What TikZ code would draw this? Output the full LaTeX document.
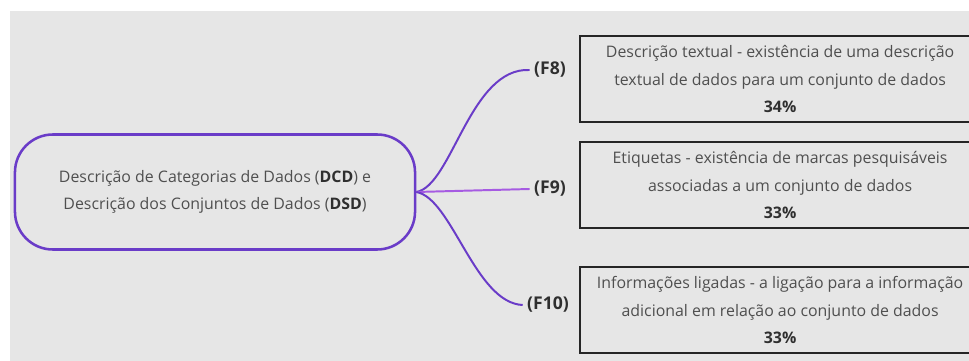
\documentclass[tikz,border=0pt]{standalone}
\usepackage{fontspec}
\setmainfont{Open Sans}
\usepackage{tikz}
\usetikzlibrary{positioning,calc}
\definecolor{panelbg}{HTML}{E6E6E6}
\definecolor{rootline}{HTML}{6A3CC8}
\definecolor{midline}{HTML}{A65BE2}
\definecolor{txtgray}{HTML}{4F4F4F}
\definecolor{lblgray}{HTML}{2F2F2F}
\tikzset{
  root/.style    = {draw=rootline,line width=1.8pt,rounded corners=27pt,
                     minimum width=10cm,minimum height=2.875cm,align=center,
                     text=txtgray,font=\fontsize{11.3}{19.5}\selectfont},
  fbox/.style    = {draw=black!85,line width=1.5pt,minimum width=10cm,
                     minimum height=2.15cm,align=center,anchor=west,
                     text=txtgray,font=\fontsize{11.3}{19.8}\selectfont},
  flbl/.style    = {font=\fontsize{12.5}{14}\selectfont\bfseries,
                     text=lblgray,inner sep=3pt},
  branch/.style  = {line width=1.4pt,draw=rootline},
}
\begin{document}
\begin{tikzpicture}[x=0.025cm,y=-0.025cm]
  \useasboundingbox (0,0) rectangle (969,361);
  \clip (0,0) rectangle (969,361);
  \fill[panelbg] (10,11) rectangle (969,361);
  % Central topic
  \node[root] (dcd) at (215,192)
        {Descrição de Categorias de Dados (\textcolor{lblgray}{\bfseries DCD}) e\\
         Descrição dos Conjuntos de Dados (\textcolor{lblgray}{\bfseries DSD})};
  % Branch labels
  \node[flbl] (lf8)  at (550,70)  {(F8)};
  \node[flbl] (lf9)  at (550,189) {(F9)};
  \node[flbl] (lf10) at (548,305) {(F10)};
  % Description boxes
  \node[fbox] (bf8) at (579,79)
        {Descrição textual - existência de uma descrição\\
         textual de dados para um conjunto de dados\\
         \textcolor{lblgray}{\bfseries 34\%}};
  \node[fbox] (bf9) at (579,185)
        {Etiquetas - existência de marcas pesquisáveis\\
         associadas a um conjunto de dados\\
         \textcolor{lblgray}{\bfseries 33\%}};
  \node[fbox] (bf10) at (579,310)
        {Informações ligadas - a ligação para a informação\\
         adicional em relação ao conjunto de dados\\
         \textcolor{lblgray}{\bfseries 33\%}};
  % Branches
  \draw[branch] (dcd.east) .. controls (452,186) and (470,67) .. (lf8.west);
  \draw[branch,draw=midline] (dcd.east) -- (lf9.west);
  \draw[branch] (dcd.east) .. controls (452,198) and (475,303) .. (lf10.west);
\end{tikzpicture}
\end{document}
